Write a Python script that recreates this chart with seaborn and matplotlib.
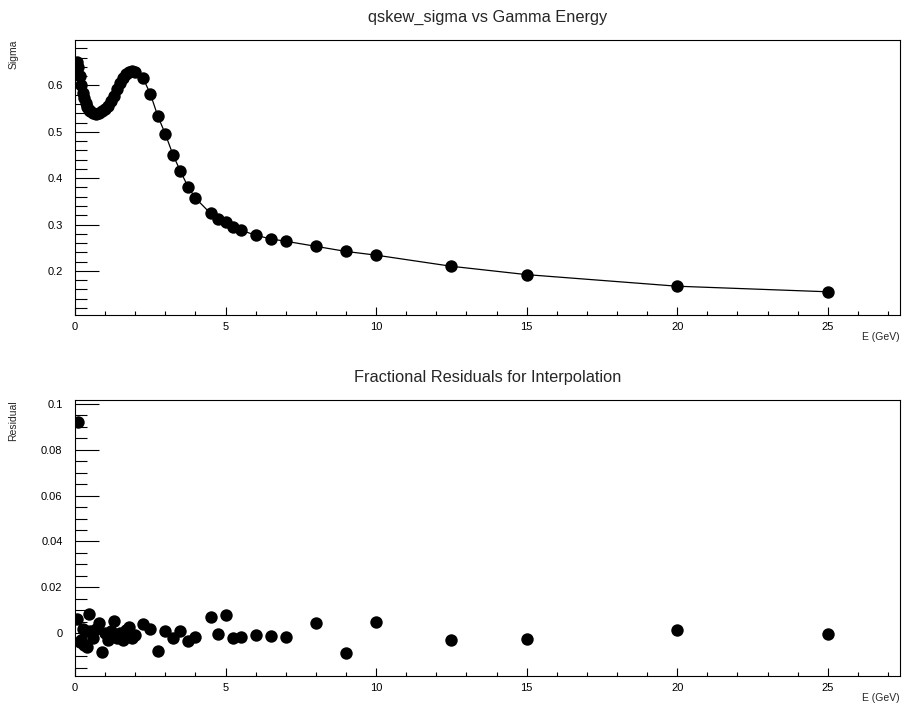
import matplotlib
matplotlib.use("Agg")
import matplotlib.pyplot as plt
from matplotlib.ticker import MultipleLocator, FuncFormatter
import numpy as np
import pandas as pd
import seaborn as sns

# Photon energies (GeV)
energy = [0.05, 0.1, 0.15, 0.2, 0.25, 0.3, 0.35, 0.4, 0.45, 0.5,
          0.6, 0.7, 0.8, 0.9, 1.0, 1.1, 1.2, 1.3, 1.4, 1.5,
          1.6, 1.7, 1.8, 1.9, 2.0, 2.25, 2.5, 2.75, 3.0, 3.25,
          3.5, 3.75, 4.0, 4.5, 4.75, 5.0, 5.25, 5.5, 6.0, 6.5,
          7.0, 8.0, 9.0, 10.0, 12.5, 15.0, 20.0, 25.0]

# qskew sigma parameter at each energy
sigma = [0.650, 0.640, 0.620, 0.600, 0.584, 0.572, 0.562, 0.553, 0.548, 0.544,
         0.540, 0.539, 0.541, 0.544, 0.549, 0.556, 0.566, 0.578, 0.592, 0.605,
         0.616, 0.624, 0.629, 0.631, 0.630, 0.617, 0.582, 0.534, 0.495, 0.451,
         0.415, 0.382, 0.357, 0.324, 0.312, 0.305, 0.294, 0.288, 0.277, 0.269,
         0.264, 0.253, 0.242, 0.234, 0.210, 0.192, 0.167, 0.155]

# Fractional residuals of the interpolation
residual = [0.0060, 0.0920, -0.0040, -0.0030, 0.0020, -0.0050, 0.0010, -0.0060, 0.0083, 0.0010,
            -0.0020, 0.0020, 0.0045, -0.0081, 0.0000, -0.0030, 0.0010, 0.0052, -0.0020, 0.0000,
            -0.0030, 0.0015, 0.0027, -0.0020, -0.0010, 0.0038, 0.0017, -0.0080, 0.0010, -0.0023,
            0.0010, -0.0034, -0.0015, 0.0070, -0.0002, 0.0079, -0.0022, -0.0016, -0.0009, -0.0012,
            -0.0019, 0.0042, -0.0088, 0.0047, -0.0030, -0.0027, 0.0013, -0.0003]

df = pd.DataFrame({"E": energy, "sigma": sigma, "residual": residual})

sns.set_theme(style="ticks")
plt.rcParams["font.family"] = ["Liberation Sans", "DejaVu Sans"]
plt.rcParams["axes.linewidth"] = 0.8

fig = plt.figure(figsize=(9.06, 7.04), dpi=100)
ax_top = fig.add_axes([0.0828, 0.5526, 0.9106, 0.3906])
ax_bot = fig.add_axes([0.0828, 0.0398, 0.9106, 0.3920])

fmt = FuncFormatter(lambda v, p: "{:g}".format(round(v, 6)))

# Upper panel: sigma vs energy with connecting curve
sns.lineplot(data=df, x="E", y="sigma", ax=ax_top, color="black", lw=0.9,
             sort=True, estimator=None)
sns.scatterplot(data=df, x="E", y="sigma", ax=ax_top, color="black", s=80,
                linewidth=0, zorder=3)
ax_top.set_xlim(0, 27.4)
ax_top.set_ylim(0.105, 0.698)
ax_top.yaxis.set_major_locator(MultipleLocator(0.1))
ax_top.yaxis.set_minor_locator(MultipleLocator(0.02))
ax_top.set_title("qskew_sigma vs Gamma Energy", fontsize=11.8, pad=13)
ax_top.set_ylabel("Sigma", fontsize=7.5, loc="top")
ax_top.set_xlabel("E (GeV)", fontsize=7.5, loc="right")
ax_top.xaxis.set_label_coords(1.0, -0.062)
ax_top.yaxis.set_label_coords(-0.069, 1.0)

# Lower panel: fractional residuals
sns.scatterplot(data=df, x="E", y="residual", ax=ax_bot, color="black", s=80,
                linewidth=0, zorder=3)
ax_bot.set_xlim(0, 27.4)
ax_bot.set_ylim(-0.0187, 0.1017)
ax_bot.yaxis.set_major_locator(MultipleLocator(0.02))
ax_bot.yaxis.set_minor_locator(MultipleLocator(0.005))
ax_bot.set_title("Fractional Residuals for Interpolation", fontsize=11.8, pad=13)
ax_bot.set_ylabel("Residual", fontsize=7.5, loc="top")
ax_bot.set_xlabel("E (GeV)", fontsize=7.5, loc="right")
ax_bot.xaxis.set_label_coords(1.0, -0.062)
ax_bot.yaxis.set_label_coords(-0.069, 1.0)

for ax in (ax_top, ax_bot):
    ax.xaxis.set_major_locator(MultipleLocator(5))
    ax.xaxis.set_minor_locator(MultipleLocator(1))
    ax.xaxis.set_major_formatter(fmt)
    ax.yaxis.set_major_formatter(fmt)
    ax.tick_params(axis="both", which="both", direction="in", colors="black",
                   labelsize=8, width=0.8)
    ax.tick_params(axis="y", which="major", length=17, pad=9)
    ax.tick_params(axis="y", which="minor", length=8.5)
    ax.tick_params(axis="x", which="major", length=6, pad=5)
    ax.tick_params(axis="x", which="minor", length=3)
    for sp in ax.spines.values():
        sp.set_visible(True)
        sp.set_color("black")
    ax.grid(False)

fig.savefig("out.png", dpi=100)
